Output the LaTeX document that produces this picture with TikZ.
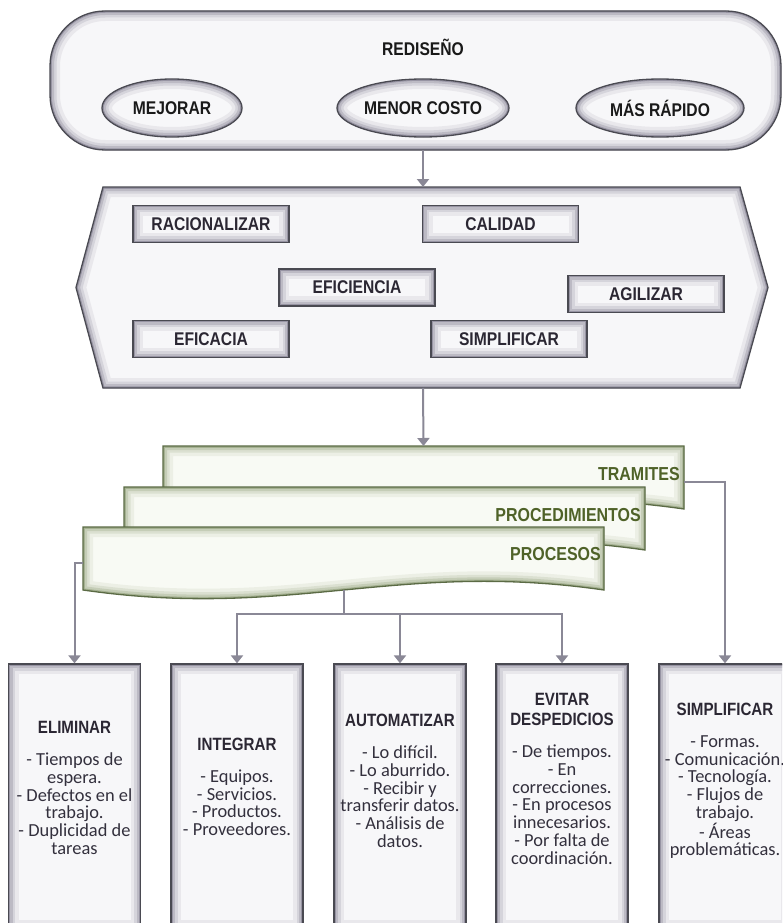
\documentclass[tikz,border=0pt]{standalone}
\usepackage{fontspec}
\usetikzlibrary{arrows.meta}
\newfontfamily\titlefont[FakeStretch=0.85]{Liberation Sans}
\newfontfamily\itemfont{Carlito}
\definecolor{boxfill}{HTML}{F7F7F9}
\definecolor{glowc}{HTML}{6A667A}
\definecolor{bordc}{HTML}{4A4A52}
\definecolor{docfill}{HTML}{F8FAF4}
\definecolor{docglow}{HTML}{7E8F62}
\definecolor{docbord}{HTML}{5B6B45}
\definecolor{doctext}{HTML}{4F6228}
\definecolor{connc}{HTML}{8A8896}
\definecolor{darktext}{HTML}{2B2733}
\definecolor{itemtext}{HTML}{33303D}
\newcommand{\glowshape}[5]{%
  \fill[#1, fill=#2] #5;
  \begin{scope}
    \clip[#1] #5;
    \draw[#1, line width=20pt, draw=#3!10!#2] #5;
    \draw[#1, line width=13pt, draw=#3!24!#2] #5;
    \draw[#1, line width=8pt, draw=#3!42!#2] #5;
    \draw[#1, line width=3.5pt, draw=#3!68!#2] #5;
  \end{scope}
  \draw[#1, line width=1.3pt, draw=#4] #5;
}
\tikzset{
  glowbox/.style={draw=bordc, line width=1.3pt, fill=boxfill, inner sep=0pt,
    path picture={
      \draw[line width=20pt, draw=glowc!10!boxfill] (path picture bounding box.south west) rectangle (path picture bounding box.north east);
      \draw[line width=13pt, draw=glowc!24!boxfill] (path picture bounding box.south west) rectangle (path picture bounding box.north east);
      \draw[line width=8pt, draw=glowc!42!boxfill] (path picture bounding box.south west) rectangle (path picture bounding box.north east);
      \draw[line width=3.5pt, draw=glowc!68!boxfill] (path picture bounding box.south west) rectangle (path picture bounding box.north east);
    }},
  hexbox/.style={glowbox, minimum width=156pt, minimum height=37pt,
    font=\titlefont\bfseries\fontsize{18.4}{20}\selectfont, text=darktext},
  botbox/.style={glowbox, minimum width=132pt, minimum height=266pt},
  bottext/.style={align=center, text=itemtext, inner sep=0pt,
    font=\itemfont\fontsize{18.4}{17.8}\selectfont},
  elltext/.style={font=\titlefont\bfseries\fontsize{18.4}{20}\selectfont, text=black!90, inner sep=0pt},
  doclabel/.style={font=\titlefont\bfseries\fontsize{18.8}{20}\selectfont, text=doctext, inner sep=0pt, anchor=east},
  anchorbox/.style={inner sep=0pt, outer sep=0pt},
  conn/.style={draw=connc, line width=2pt},
  arr/.style={conn, -{Triangle[width=12pt,length=8pt]}}
}
\newcommand{\ttl}[1]{{\titlefont\bfseries\fontsize{17.8}{19}\selectfont\color{darktext}#1}}
\begin{document}
\begin{tikzpicture}[x=1pt, y=-1pt]
\useasboundingbox (0,0) rectangle (782,923);
\clip (0,0) rectangle (782,923);
\fill[white] (0,0) rectangle (782,923);

% ---------- top rounded box ----------
\glowshape{rounded corners=55pt}{boxfill}{glowc}{bordc}{(50,11) rectangle (781,150)}
\node[anchorbox, minimum width=731pt, minimum height=139pt] (topbox) at (415.5,80.5) {};
\node[elltext] (redis) at (423,47) {REDISEÑO};

\glowshape{}{boxfill}{glowc}{bordc}{(172,108) ellipse [x radius=70, y radius=29]}
\glowshape{}{boxfill}{glowc}{bordc}{(423,108) ellipse [x radius=86, y radius=29]}
\glowshape{}{boxfill}{glowc}{bordc}{(660,108) ellipse [x radius=84, y radius=29]}
\node[elltext] (mejorar) at (172,108) {MEJORAR};
\node[elltext] (menor) at (423,108) {MENOR COSTO};
\node[elltext] (rapido) at (660,108) {MÁS RÁPIDO};

% ---------- hexagon ----------
\glowshape{}{boxfill}{glowc}{bordc}{(103,187) -- (740,187) -- (768,287.5) -- (740,388) -- (103,388) -- (76,287.5) -- cycle}
\node[anchorbox, minimum width=692pt, minimum height=201pt] (hex) at (422,287.5) {};

\node[hexbox] (racio) at (211,224) {RACIONALIZAR};
\node[hexbox] (calid) at (500.5,224) {CALIDAD};
\node[hexbox] (efici) at (357,287.5) {EFICIENCIA};
\node[hexbox] (agil) at (646,294) {AGILIZAR};
\node[hexbox] (efica) at (211,339) {EFICACIA};
\node[hexbox] (simpl) at (509,339) {SIMPLIFICAR};

% ---------- documents ----------
\glowshape{}{docfill}{docglow}{docbord}{(163,446) -- (684,446) -- (684,509) .. controls (475.6,479) and (371.4,539) .. (163,509) -- cycle}
\node[anchorbox, minimum width=521pt, minimum height=72pt] (tram) at (423.5,482) {};
\node[doclabel] (tramlbl) at (680,474) {TRAMITES};

\glowshape{}{docfill}{docglow}{docbord}{(124,487) -- (645,487) -- (645,550) .. controls (436.6,520) and (332.4,580) .. (124,550) -- cycle}
\node[anchorbox, minimum width=521pt, minimum height=72pt] (procd) at (384.5,523) {};
\node[doclabel] (procdlbl) at (641,515) {PROCEDIMIENTOS};

\glowshape{}{docfill}{docglow}{docbord}{(83,527) -- (604,527) -- (604,590) .. controls (395.6,560) and (291.4,620) .. (83,590) -- cycle}
\node[anchorbox, minimum width=521pt, minimum height=72pt] (proc) at (343.5,563) {};
\node[doclabel] (proclbl) at (601,554) {PROCESOS};

% ---------- bottom boxes ----------
\node[botbox] (elim) at (74.5,797) {};
\node[botbox] (integ) at (237,797) {};
\node[botbox] (autom) at (400,797) {};
\node[botbox] (evit) at (562,797) {};
\node[botbox] (simp) at (725,797) {};

\node[bottext] (elimt) at (74.5,788) {\ttl{ELIMINAR}\\[14pt]- Tiempos de\\espera.\\- Defectos en el\\trabajo.\\- Duplicidad de\\tareas};
\node[bottext] (integt) at (237,787) {\ttl{INTEGRAR}\\[14pt]- Equipos.\\- Servicios.\\- Productos.\\- Proveedores.};
\node[bottext] (automt) at (400,781) {\ttl{AUTOMATIZAR}\\[14pt]- Lo difícil.\\- Lo aburrido.\\- Recibir y\\transferir datos.\\- Análisis de\\datos.};
\node[bottext] (evitt) at (562,779) {\ttl{EVITAR}\\[2pt]\ttl{DESPEDICIOS}\\[14pt]- De tiempos.\\- En\\correcciones.\\- En procesos\\innecesarios.\\- Por falta de\\coordinación.};
\node[bottext] (simpt) at (725,781) {\ttl{SIMPLIFICAR}\\[14pt]- Formas.\\- Comunicación.\\- Tecnología.\\- Flujos de\\trabajo.\\- Áreas\\problemáticas.};

% ---------- connectors ----------
\draw[arr] (menor |- topbox.south) -- (menor |- hex.north);
\draw[arr] (menor |- hex.south) -- (tram.north);
\draw[arr] (tram.east) -| (simp.north);
\draw[arr] (proc.west) -| (elim.north);
\coordinate (procbot) at (343.5,590);
\coordinate (bus) at (343.5,614);
\draw[conn] (procbot) -- (bus);
\draw[arr] (bus) -| (integ.north);
\draw[arr] (bus) -| (autom.north);
\draw[arr] (bus) -| (evit.north);
\end{tikzpicture}
\end{document}
